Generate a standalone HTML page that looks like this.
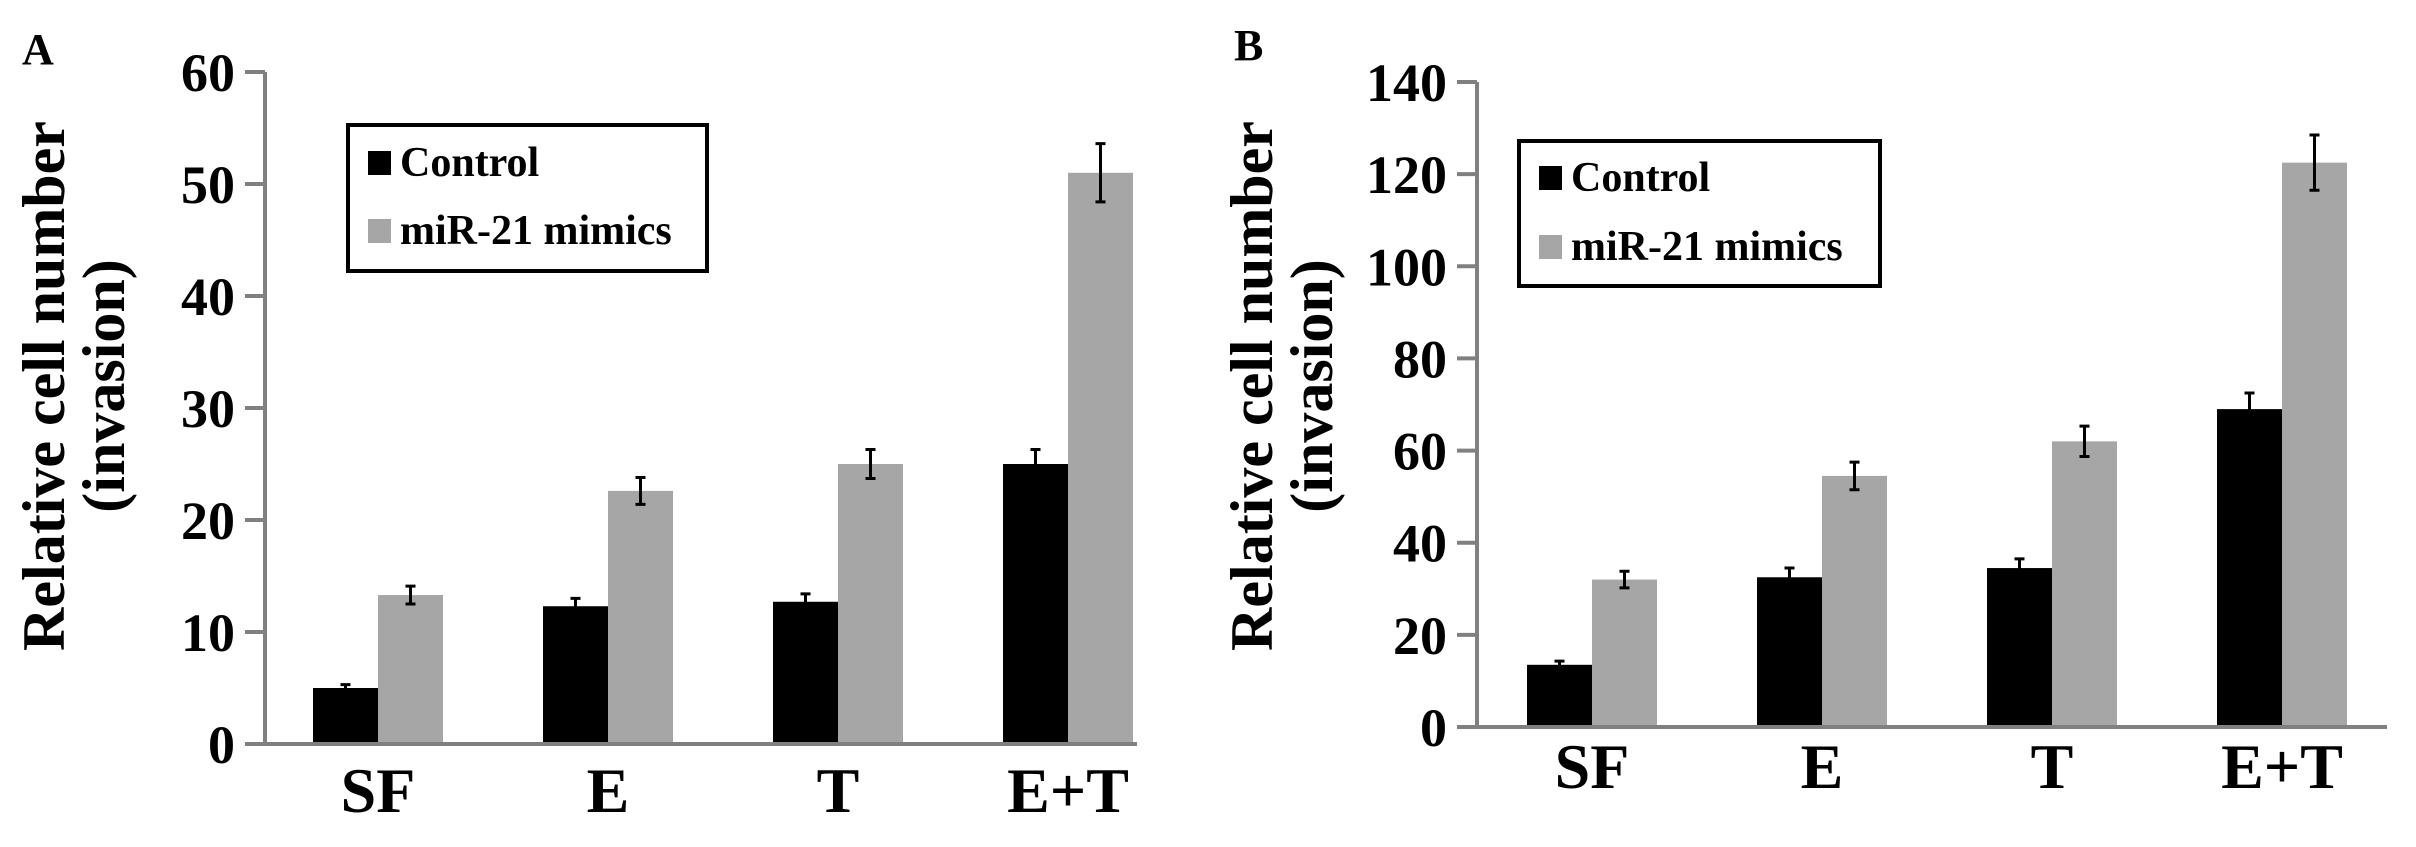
<!DOCTYPE html>
<html><head><meta charset="utf-8"><style>
html,body{margin:0;padding:0;background:#fff;}
svg, svg text{font-family:"Liberation Serif","DejaVu Serif","Times New Roman",serif;font-weight:bold;}
</style></head><body>
<svg id="fig" width="2416" height="842" viewBox="0 0 2416 842" xmlns="http://www.w3.org/2000/svg"></svg>
<script>
const categories = ["SF","E","T","E+T"];
const seriesNames = ["Control","miR-21 mimics"];
const aControl = [5, 12.3, 12.7, 25];
const aControlErr = [0.3, 0.7, 0.7, 1.3];
const aMimics = [13.3, 22.6, 25, 51];
const aMimicsErr = [0.8, 1.2, 1.3, 2.6];
const aTicks = [0,10,20,30,40,50,60];
const bControl = [13.5, 32.5, 34.5, 69];
const bControlErr = [0.8, 2, 2, 3.5];
const bMimics = [32, 54.5, 62, 122.5];
const bMimicsErr = [1.8, 3, 3.3, 6];
const bTicks = [0,20,40,60,80,100,120,140];

const NS="http://www.w3.org/2000/svg";
const FF='"Liberation Serif", "DejaVu Serif", "Times New Roman", serif';
const svg=document.getElementById('fig');
function mk(tag,attrs,parent){const e=document.createElementNS(NS,tag);for(const k in attrs)e.setAttribute(k,attrs[k]);if(tag==='text'){e.setAttribute('font-family',FF);e.setAttribute('font-weight','bold');}(parent||svg).appendChild(e);return e;}

function panel(p){
  const g=mk('g',{});
  
  
  const ymax=p.ticks[p.ticks.length-1];
  const y=v=>p.y0-(v/ymax)*(p.y0-p.ytop);
  const lab=mk('text',{x:p.labX,y:p.labY,'font-size':44},g);
  lab.textContent=p.id;
  
  
  const t1=mk('text',{x:0,y:0,'font-size':60,'text-anchor':'middle',transform:`translate(${p.titleX},${p.titleCY}) rotate(-90)`},g);
  t1.textContent='Relative cell number';
  
  
  const t2=mk('text',{x:0,y:0,'font-size':60,'text-anchor':'middle',transform:`translate(${p.titleX+60},${p.titleCY}) rotate(-90)`},g);
  t2.textContent='(invasion)';
  
  
  const gw=230,bw=65;
  categories.forEach((c,i)=>{
    const x0=p.barStart+i*gw;
    [[p.ctrl,p.ctrlErr,'#000'],[p.mim,p.mimErr,'#a6a6a6']].forEach((s,j)=>{
      const v=s[0][i],e=s[1][i],bx=x0+j*bw;
      const r=mk('rect',{x:bx,y:y(v),width:bw,height:p.y0-y(v),fill:s[2]},g);
      
      
      const cx=bx+bw/2;
      const eb=mk('path',{d:`M${cx},${y(v+e)}V${y(v-e)}M${cx-5},${y(v+e)}H${cx+5}M${cx-5},${y(v-e)}H${cx+5}`,stroke:'#000','stroke-width':3,fill:'none'},g);
      
      
    });
    const cl=mk('text',{x:x0+bw,y:p.catY,'font-size':64,'text-anchor':'middle'},g);
    cl.textContent=c;
    
    
  });
  const ax=mk('path',{d:`M${p.ax},${p.ytop}V${p.y0}H${p.axEnd}`,stroke:'#808080','stroke-width':4,fill:'none'},g);
  
  
  p.ticks.forEach(t=>{
    const tk=mk('line',{x1:p.ax-20,x2:p.ax,y1:y(t),y2:y(t),stroke:'#808080','stroke-width':4},g);
    
    
    const tl=mk('text',{x:p.ax-30,y:y(t)+19,'font-size':54,'text-anchor':'end'},g);
    tl.textContent=t;
    
    
  });
  const L=p.leg;
  const lg=mk('g',{},g);
  
  
  mk('rect',{x:L.x,y:L.y,width:L.w,height:L.h,fill:'#fff',stroke:'#000','stroke-width':4},lg);
  [['#000',L.b1],['#a6a6a6',L.b2]].forEach((s,k)=>{
    const sw=mk('rect',{x:L.x+20,y:s[1]-25,width:23,height:24,fill:s[0]},lg);
    
    
    const tx=mk('text',{x:L.x+52,y:s[1],'font-size':42},lg);
    tx.textContent=seriesNames[k];
    
    
  });
}

panel({id:'A',labX:22,labY:64,titleX:64,titleCY:386,ticks:aTicks,y0:744,ytop:72,ax:265,axEnd:1137,barStart:313,catY:812,
  ctrl:aControl,ctrlErr:aControlErr,mim:aMimics,mimErr:aMimicsErr,
  leg:{x:348,y:125,w:359,h:146,b1:176,b2:244}});
panel({id:'B',labX:1234,labY:60,titleX:1272,titleCY:386,ticks:bTicks,y0:727,ytop:82,ax:1477,axEnd:2387,barStart:1527,catY:788,
  ctrl:bControl,ctrlErr:bControlErr,mim:bMimics,mimErr:bMimicsErr,
  leg:{x:1519,y:141,w:361,h:145,b1:191,b2:260}});
</script>
</body></html>
